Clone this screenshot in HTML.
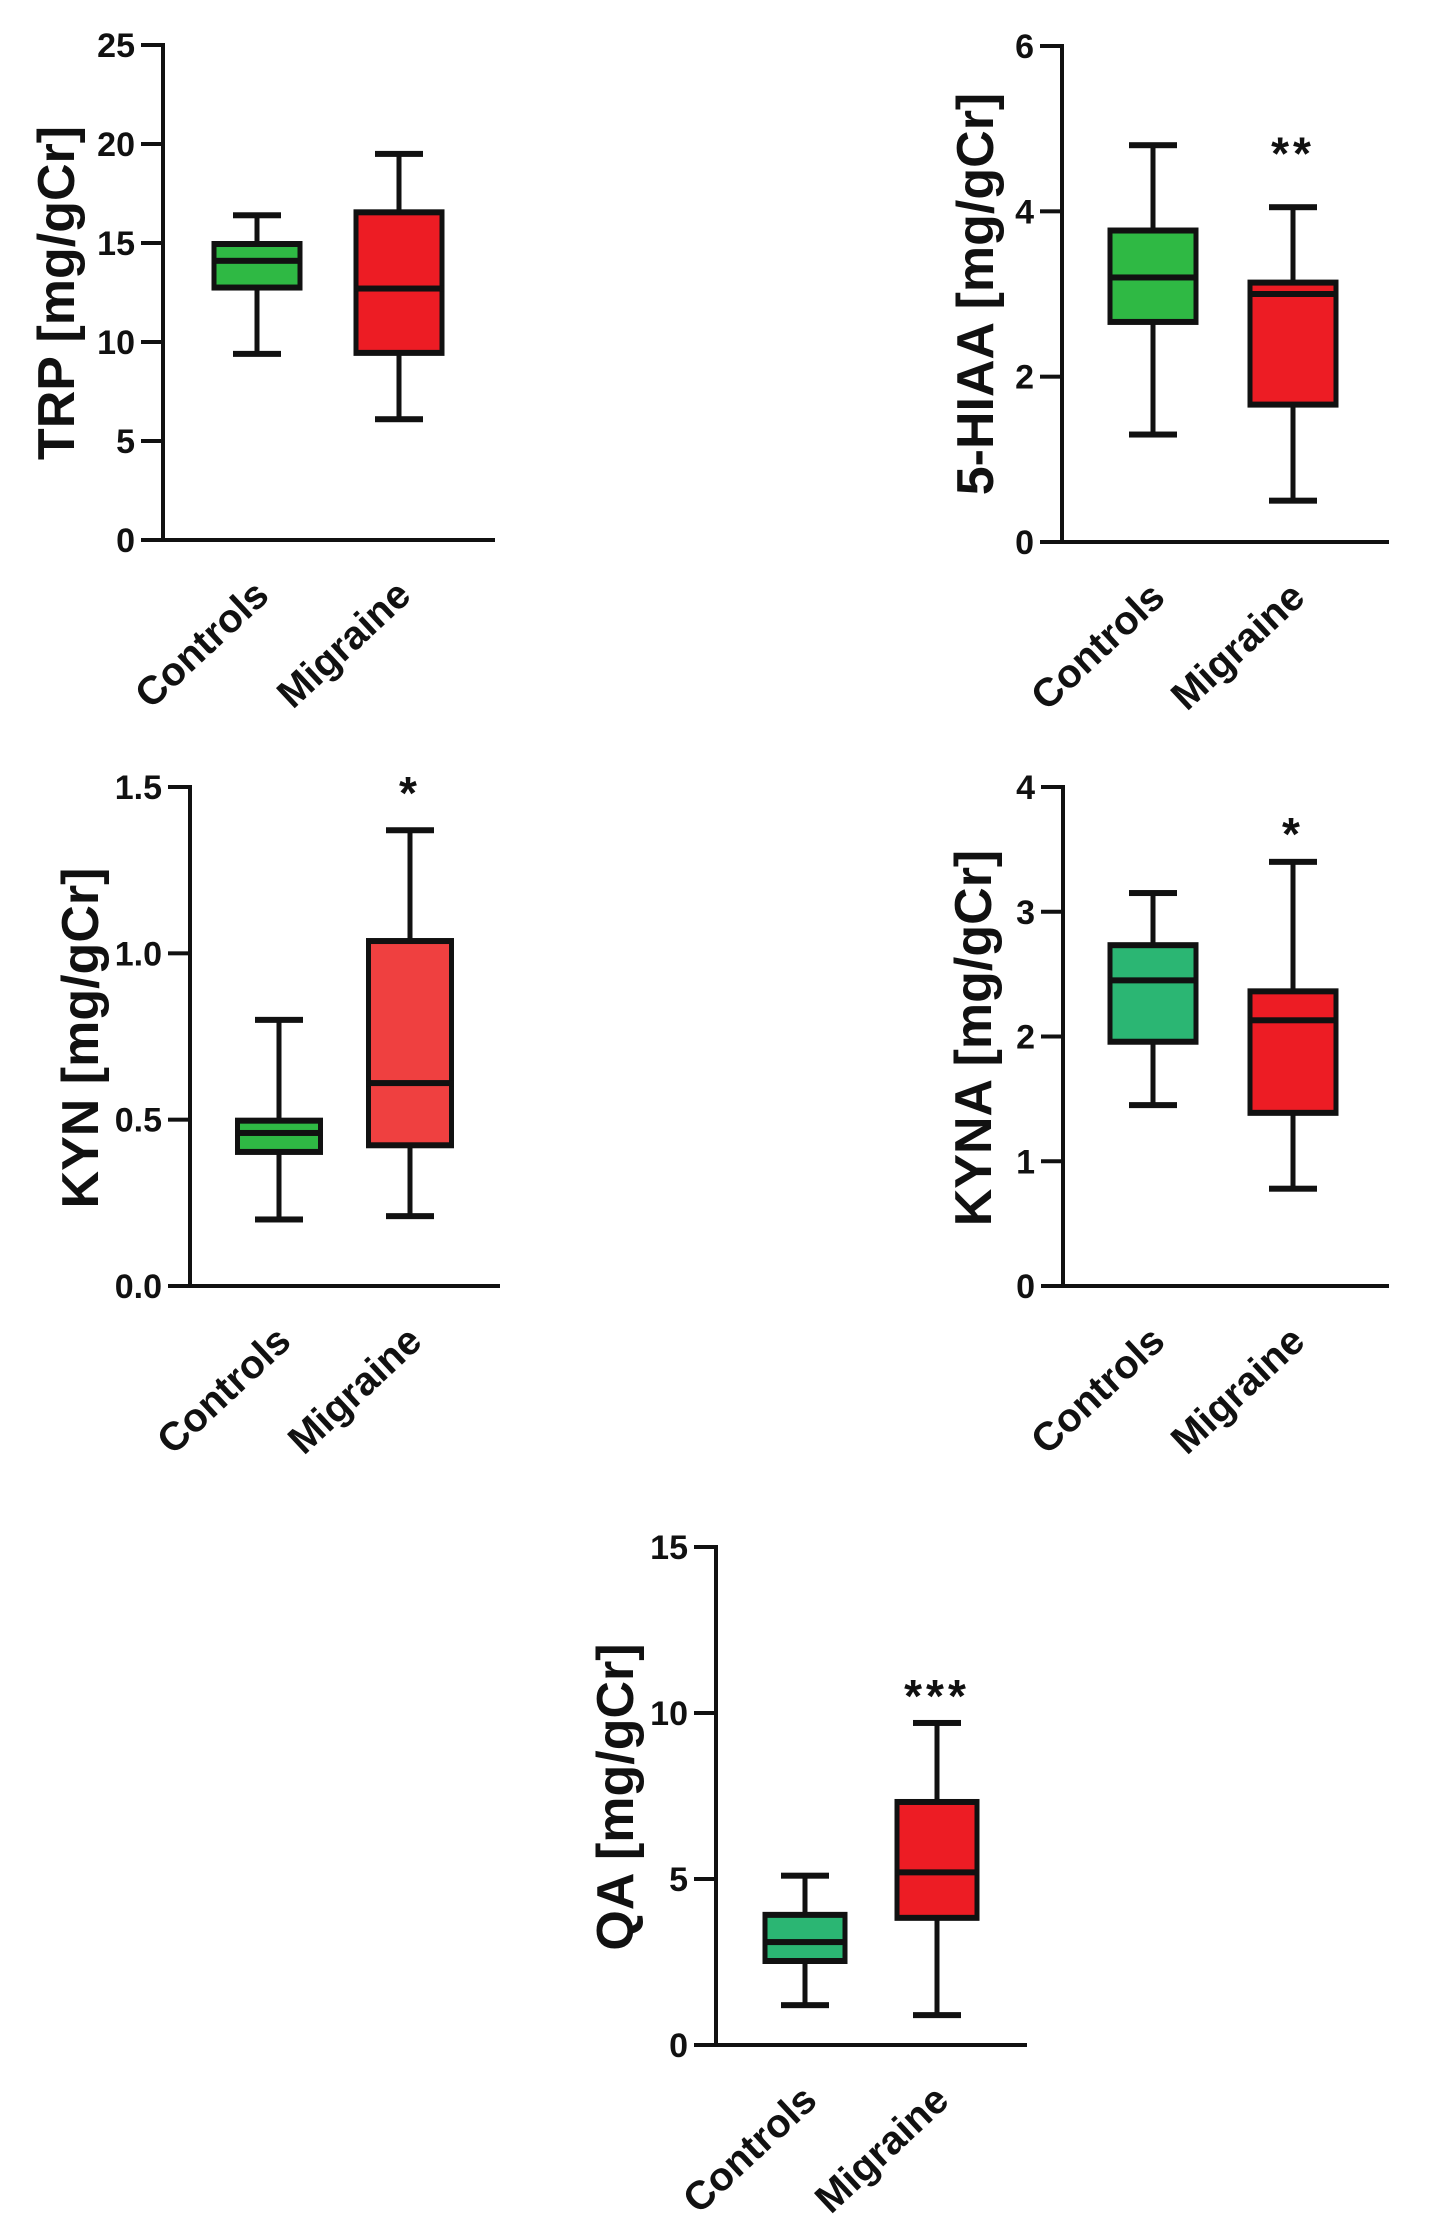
<!DOCTYPE html>
<html><head><meta charset="utf-8"><style>
html,body{margin:0;padding:0;background:#fff;}
svg{display:block;}
text{font-family:"Liberation Sans",Arial,sans-serif;font-weight:bold;fill:#111;}
</style></head><body>
<svg id="chart" width="1430" height="2233" viewBox="0 0 1430 2233" xmlns="http://www.w3.org/2000/svg"></svg>
<script>
// ---- data ----
const categories = ["Controls", "Migraine"];
const panelNames = ["TRP", "5-HIAA", "KYN", "KYNA", "QA"];
const yTitles = ["TRP [mg/gCr]", "5-HIAA [mg/gCr]", "KYN [mg/gCr]", "KYNA [mg/gCr]", "QA [mg/gCr]"];
const yMax = [25, 6, 1.5, 4, 15];
const tickLabels = [["0","5","10","15","20","25"],["0","2","4","6"],["0.0","0.5","1.0","1.5"],["0","1","2","3","4"],["0","5","10","15"]];
// [min, q1, median, q3, max] per group
const trpControls = [9.4, 12.7, 14.1, 15.0, 16.4];
const trpMigraine = [6.1, 9.4, 12.7, 16.6, 19.5];
const hiaaControls = [1.3, 2.65, 3.2, 3.78, 4.8];
const hiaaMigraine = [0.5, 1.65, 3.0, 3.15, 4.05];
const kynControls = [0.2, 0.40, 0.46, 0.50, 0.8];
const kynMigraine = [0.21, 0.42, 0.61, 1.04, 1.37];
const kynaControls = [1.45, 1.95, 2.45, 2.74, 3.15];
const kynaMigraine = [0.78, 1.38, 2.13, 2.37, 3.4];
const qaControls = [1.2, 2.5, 3.1, 3.95, 5.1];
const qaMigraine = [0.9, 3.8, 5.2, 7.35, 9.7];
const sigLabels = ["", "**", "*", "*", "***"];
const sigValues = [0, 4.77, 1.5, 3.67, 10.7];

// ---- layout (pixel space) ----
const layouts = [
  {ax:163, top:45, zero:540, xend:495, cx:[257,399], bw:91, tx:55, ty:293, colors:["#2fb944","#ed1c24"]},
  {ax:1062, top:46, zero:542, xend:1389, cx:[1153,1293], bw:91, tx:974, ty:294, colors:["#2fb944","#ed1c24"]},
  {ax:190, top:787, zero:1286, xend:500, cx:[279,410], bw:88, tx:79, ty:1038, colors:["#2fb944","#ef4040"]},
  {ax:1063, top:787, zero:1286, xend:1389, cx:[1153,1293], bw:91, tx:972, ty:1038, colors:["#2bb673","#ed1c24"]},
  {ax:716, top:1547, zero:2045, xend:1027, cx:[805,937], bw:85, tx:614, ty:1797, colors:["#2bb673","#ed1c24"]}
];
const series = [[trpControls,trpMigraine],[hiaaControls,hiaaMigraine],[kynControls,kynMigraine],[kynaControls,kynaMigraine],[qaControls,qaMigraine]];

const NS = "http://www.w3.org/2000/svg";
const svg = document.getElementById("chart");
function mk(tag, attrs, parent){
  const e = document.createElementNS(NS, tag);
  for (const k in attrs) e.setAttribute(k, attrs[k]);
  (parent||svg).appendChild(e);
  return e;
}

layouts.forEach((L, p) => {
  const g = mk("g", {});
  
  
  const yScale = v => L.zero - (v / yMax[p]) * (L.zero - L.top);
  const ya = mk("rect", {x:L.ax-2, y:L.top-2, width:4, height:L.zero-L.top+4, fill:"#111"}, g);
  
  
  const xa = mk("rect", {x:L.ax-22, y:L.zero-2, width:L.xend-L.ax+22, height:4, fill:"#111"}, g);
  
  
  const n = tickLabels[p].length;
  tickLabels[p].forEach((lab, i) => {
    const v = yMax[p] * i / (n - 1);
    const y = yScale(v);
    if (i > 0) {
      const t = mk("rect", {x:L.ax-22, y:y-2, width:22, height:4, fill:"#111"}, g);
      
      
    }
    const tl = mk("text", {x:L.ax-28, y:y+12, "text-anchor":"end", "font-size":34}, g);
    tl.textContent = lab;
    
    
  });
  const yt = mk("text", {x:0, y:0, "text-anchor":"middle", "font-size":52, transform:`translate(${L.tx+19},${L.ty}) rotate(-90)`}, g);
  yt.textContent = yTitles[p];
  
  
  series[p].forEach((d, i) => {
    const cx = L.cx[i];
    const bg = mk("g", {}, g);
    
    
    const wl = mk("rect", {x:cx-2.5, y:yScale(d[4]), width:5, height:yScale(d[0])-yScale(d[4]), fill:"#111"}, bg);
    
    
    [d[0], d[4]].forEach(v => {
      const c = mk("rect", {x:cx-24, y:yScale(v)-3, width:48, height:6, fill:"#111"}, bg);
      
      
    });
    const y3 = yScale(d[3]), y1 = yScale(d[1]);
    const outer = mk("rect", {x:cx-L.bw/2, y:y3-2, width:L.bw, height:y1-y3+4, fill:"#111"}, bg);
    
    
    const inner = mk("rect", {x:cx-L.bw/2+5, y:y3+4, width:L.bw-10, height:Math.max(0,y1-y3-8), fill:L.colors[i]}, bg);
    
    
    const med = mk("rect", {x:cx-L.bw/2, y:yScale(d[2])-3, width:L.bw, height:6, fill:"#111"}, bg);
    
    
    const cl = mk("text", {x:0, y:0, "text-anchor":"end", "font-size":40, transform:`translate(${cx+14},${L.zero+58}) rotate(-43)`}, g);
    cl.textContent = categories[i];
    
    
  });
  if (sigLabels[p]) {
    const st = mk("text", {x:L.cx[1], y:yScale(sigValues[p])+22, "text-anchor":"middle", "font-size":46, "letter-spacing":4}, g);
    st.textContent = sigLabels[p];
    
    
  }
});
</script>
</body></html>
